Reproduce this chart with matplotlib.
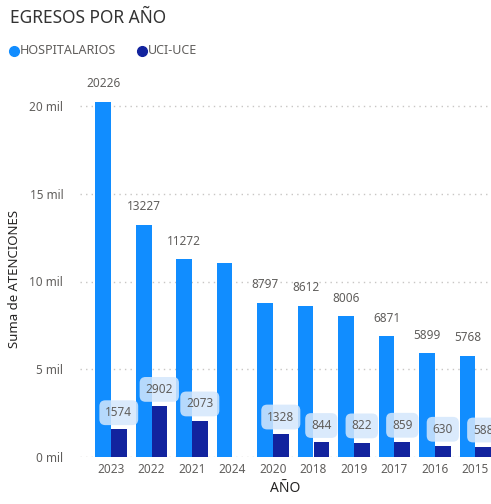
import matplotlib
matplotlib.use("Agg")
import matplotlib.pyplot as plt
import numpy as np
from matplotlib.lines import Line2D

years = ["2023", "2022", "2021", "2024", "2020", "2018", "2019", "2017", "2016", "2015"]
hospitalarios = [20226, 13227, 11272, 11050, 8797, 8612, 8006, 6871, 5899, 5768]
hosp_label_shown = [True, True, True, False, True, True, True, True, True, True]
uci_uce = [1574, 2902, 2073, None, 1328, 844, 822, 859, 630, 588]
y_ticks = [0, 5000, 10000, 15000, 20000]
y_tick_labels = ["0 mil", "5 mil", "10 mil", "15 mil", "20 mil"]

C_HOSP = "#118DFF"
C_UCI = "#12239E"
GREY = "#605E5C"

plt.rcParams['font.family'] = ['Noto Sans', 'DejaVu Sans']

W, H = 491, 504
fig = plt.figure(figsize=(W / 100, H / 100), dpi=100)
ax_l, ax_r, ax_b, ax_t = 80, 491, 457, 100
ax = fig.add_axes([ax_l / W, (H - ax_b) / H, (ax_r - ax_l) / W, (ax_b - ax_t) / H])

x = np.arange(len(years))
bw = 0.385
ax.bar(x - bw / 2, hospitalarios, width=bw, color=C_HOSP, zorder=3)
uci_vals = [v if v is not None else 0 for v in uci_uce]
ax.bar(x + bw / 2, uci_vals, width=bw, color=C_UCI, zorder=3)

ylim_top = (ax_b - ax_t) / 351 * 20000
ax.set_ylim(0, ylim_top)
ax.set_xlim((ax_l - 111) / 40.5, (ax_r - 111) / 40.5)

for i, v in enumerate(hospitalarios):
    if hosp_label_shown[i]:
        ax.annotate(str(v), (x[i] - bw / 2, v), xytext=(0, 13), textcoords="offset points",
                    ha="center", va="center", fontsize=8.5, color=GREY, annotation_clip=False)
for i, v in enumerate(uci_uce):
    if v is None:
        continue
    ax.annotate(str(v), (x[i] + bw / 2, v), xytext=(0, 12), textcoords="offset points",
                ha="center", va="center", fontsize=8.5, color=GREY, zorder=5,
                annotation_clip=False,
                bbox=dict(boxstyle="round,pad=0.5,rounding_size=0.5", fc="#D4E7FC", ec="none", alpha=0.85))

ax.set_yticks(y_ticks)
ax.set_yticklabels(y_tick_labels)
ax.set_xticks(x)
ax.set_xticklabels(years)
ax.tick_params(axis="both", length=0, labelsize=8.5, colors=GREY)
ax.tick_params(axis="y", pad=12)
ax.tick_params(axis="x", pad=4)
ax.grid(axis="y", linestyle=(0, (1, 3)), color="#C8C6C4", linewidth=1, zorder=0)
for s in ax.spines.values():
    s.set_visible(False)

ax.set_xlabel("AÑO", fontsize=10, color="#252423", labelpad=4)
ax.set_ylabel("Suma de ATENCIONES", fontsize=9.5, color="#252423", labelpad=6)

fig.text(10 / W, 1 - 18 / H, "EGRESOS POR AÑO", fontsize=12.5, color="#333333", va="center", ha="left")
# legend
fig.add_artist(Line2D([14 / W], [1 - 51 / H], marker="o", color=C_HOSP, markersize=7, linestyle="none"))
fig.text(20 / W, 1 - 51 / H, "HOSPITALARIOS", fontsize=9, color=GREY, va="center", ha="left")
fig.add_artist(Line2D([142 / W], [1 - 51 / H], marker="o", color=C_UCI, markersize=7, linestyle="none"))
fig.text(148 / W, 1 - 51 / H, "UCI-UCE", fontsize=9, color=GREY, va="center", ha="left")

fig.savefig("out.png", dpi=100)
